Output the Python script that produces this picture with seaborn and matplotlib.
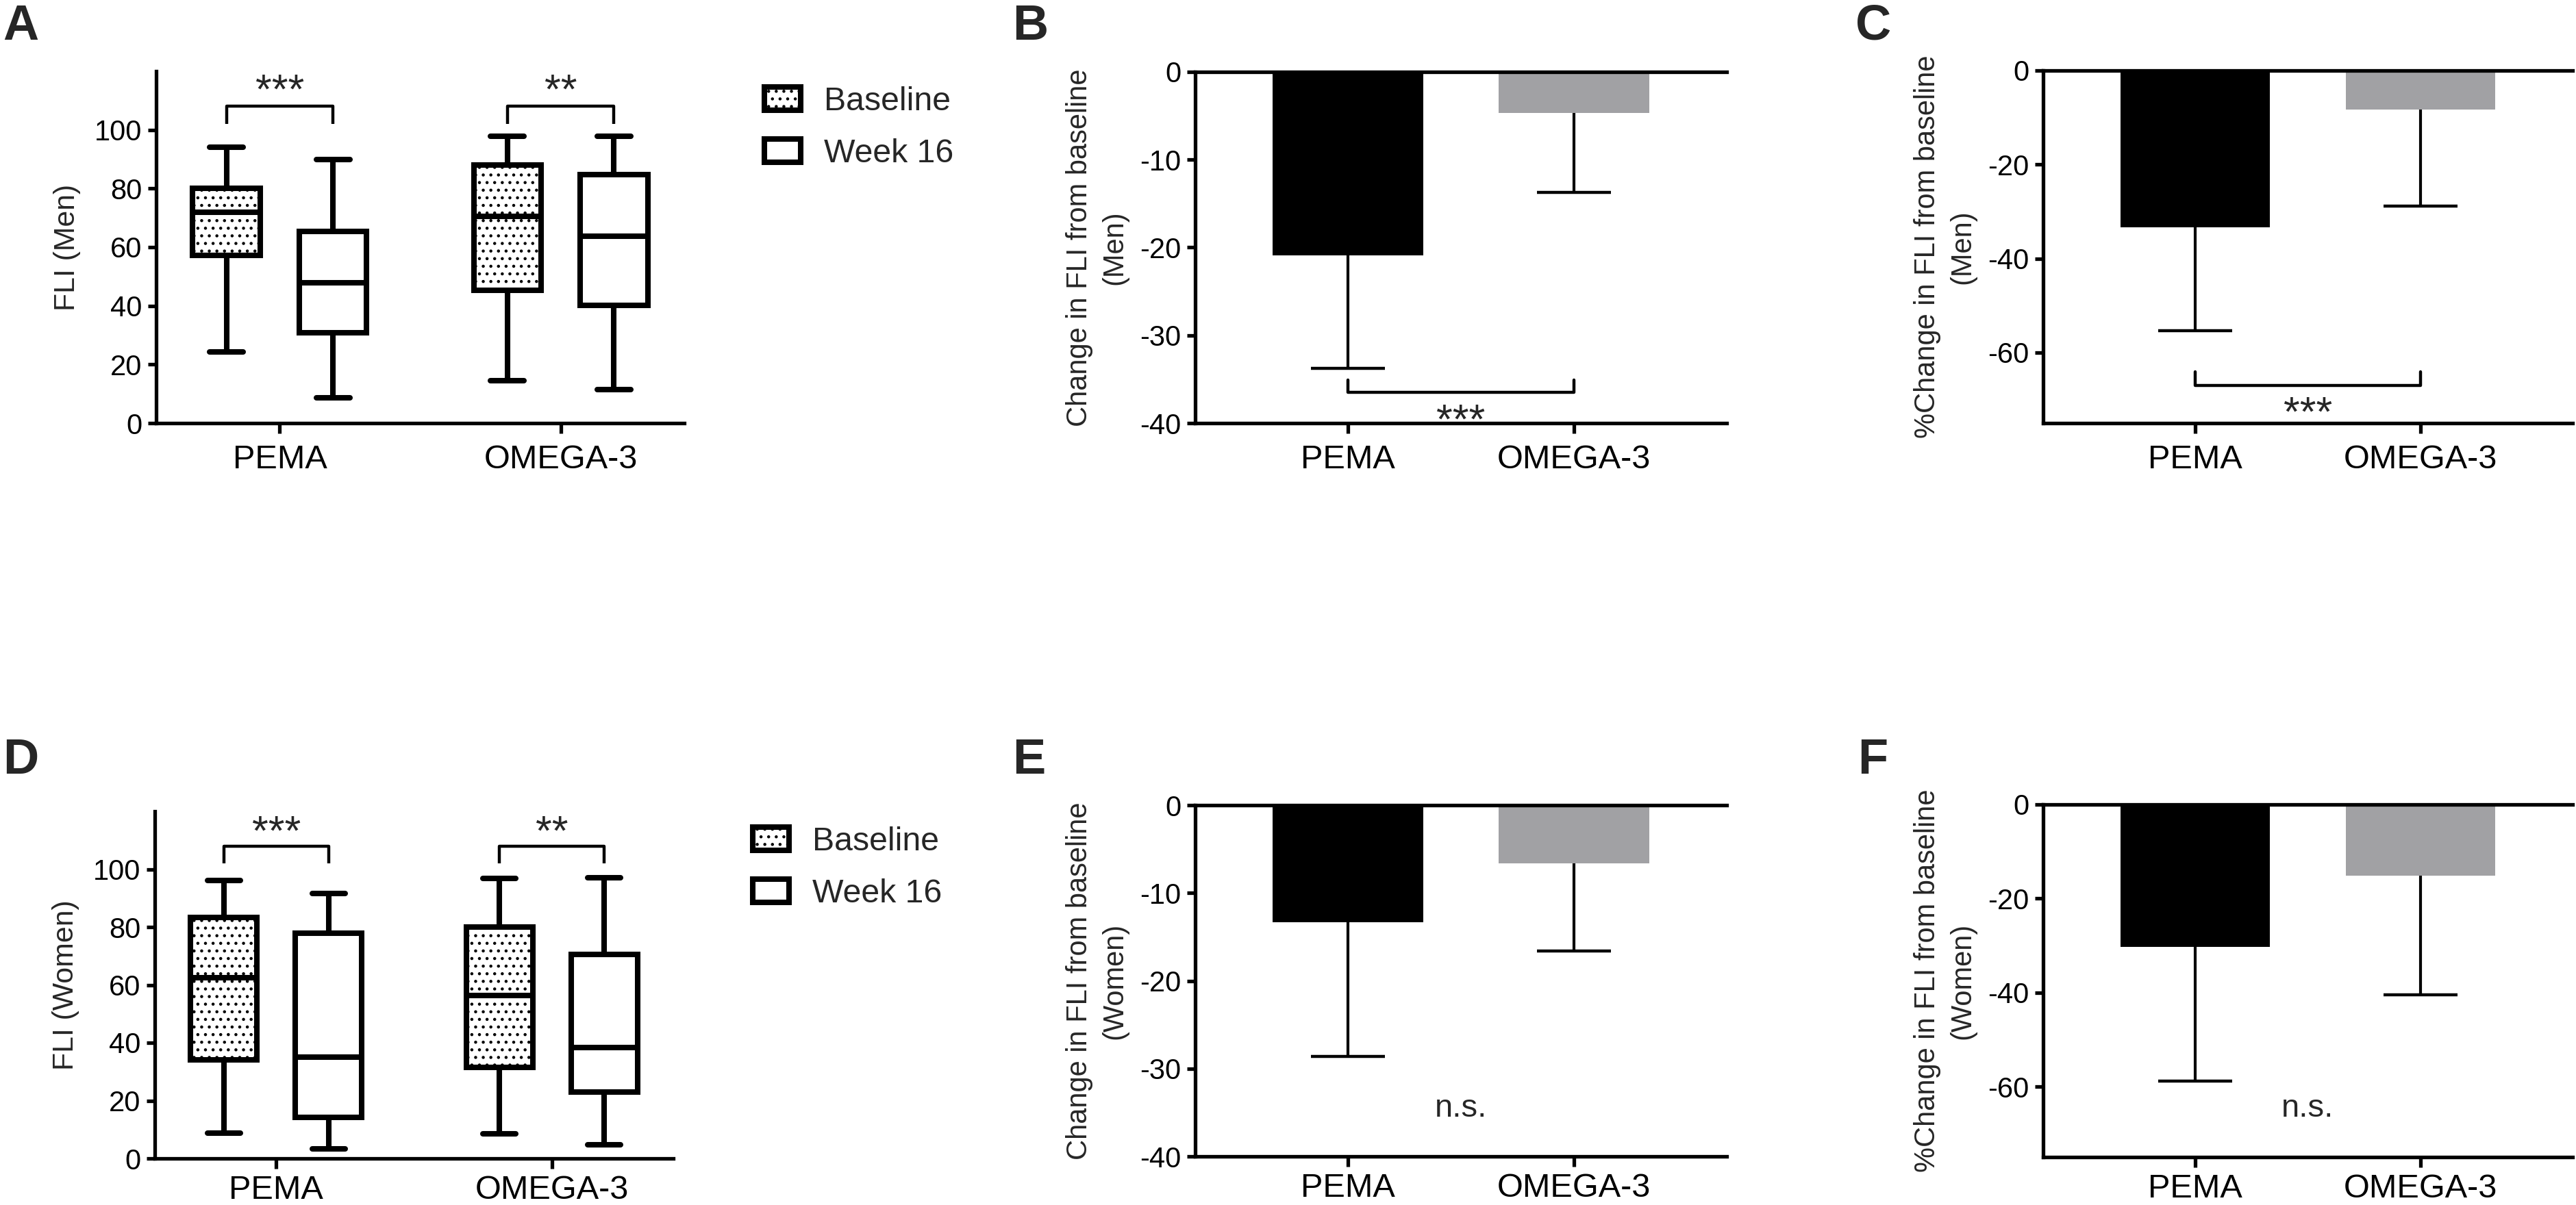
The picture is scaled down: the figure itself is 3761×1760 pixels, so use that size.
import numpy as np
import pandas as pd
import matplotlib
matplotlib.use("Agg")
import matplotlib.pyplot as plt
import seaborn as sns
from matplotlib.patches import Patch

# categories
groups = ["PEMA", "OMEGA-3"]
times = ["Baseline", "Week 16"]

# box plots: min, Q1, median, Q3, max
men_pema_baseline = [24.3, 57.3, 72.0, 80.0, 94.0]
men_pema_week16 = [8.6, 30.9, 47.9, 65.4, 89.8]
men_omega_baseline = [14.4, 45.3, 70.5, 88.0, 97.9]
men_omega_week16 = [11.5, 40.1, 63.8, 84.7, 97.9]

women_pema_baseline = [8.8, 34.1, 62.6, 83.4, 96.0]
women_pema_week16 = [3.4, 14.1, 35.0, 77.8, 91.5]
women_omega_baseline = [8.5, 31.5, 56.3, 79.9, 96.8]
women_omega_week16 = [4.8, 23.0, 38.4, 70.6, 97.0]

# bar plots: mean and SD (error drawn downward only)
change_men_mean = [-20.9, -4.7]
change_men_sd = [12.9, 9.05]
pct_men_mean = [-33.3, -8.3]
pct_men_sd = [22.0, 20.6]
change_women_mean = [-13.3, -6.6]
change_women_sd = [15.3, 10.0]
pct_women_mean = [-30.3, -15.1]
pct_women_sd = [28.6, 25.4]

box_stars = ["***", "**"]

sns.set_style("ticks")
plt.rcParams["font.family"] = ["Liberation Sans", "DejaVu Sans"]
plt.rcParams["axes.unicode_minus"] = False
plt.rcParams["hatch.linewidth"] = 0.8
plt.rcParams["hatch.color"] = "black"

fig = plt.figure(figsize=(3761 / 200, 1760 / 200), dpi=200)

W, H = 3761, 1760


def add_ax(left, right, top, bottom):
    return fig.add_axes([left / W, 1 - bottom / H, (right - left) / W, (bottom - top) / H])


ax_a = add_ax(228, 999, 104, 618)
ax_b = add_ax(1745, 2521, 105, 618)
ax_c = add_ax(2983, 3756, 103, 618)
ax_d = add_ax(226, 983, 1185, 1692)
ax_e = add_ax(1745, 2521, 1176, 1689)
ax_f = add_ax(2983, 3756, 1175, 1690)

BOX_LW = 2.9
SPINE_LW = 1.9
dodge_off = 0.76 / 4


def style_ticks(ax, xpad):
    ax.tick_params(axis="x", labelsize=17.5, length=5.5, width=SPINE_LW, pad=xpad, colors="black")
    ax.tick_params(axis="y", labelsize=15, length=4.5, width=SPINE_LW, pad=3, colors="black")
    for s in ax.spines.values():
        s.set_linewidth(SPINE_LW)
        s.set_color("black")
    ax.set_xlabel("")


def box_panel(ax, cells, ylabel, star_top, br_top, br_leg, xpad):
    rows = []
    for (g, t), vals in cells.items():
        for v in vals:
            rows.append({"group": g, "time": t, "FLI": v})
    df = pd.DataFrame(rows)
    sns.boxplot(data=df, x="group", y="FLI", hue="time", order=groups, hue_order=times,
                whis=(0, 100), width=0.76, gap=0.37, palette=["white", "white"],
                saturation=1, linecolor="black", linewidth=BOX_LW, showfliers=False,
                legend=False, ax=ax)
    for p in ax.patches:
        xc = p.get_path().vertices[:, 0].mean()
        if xc < round(xc):
            p.set_hatch("...")
    ax.set_ylim(0, 120)
    ax.set_xlim(-0.44, 1.44)
    ax.set_yticks(range(0, 101, 20))
    sns.despine(ax=ax)
    style_ticks(ax, xpad)
    ax.set_ylabel(ylabel, fontsize=15.4, labelpad=7)
    for i, s in enumerate(box_stars):
        x0, x1 = i - dodge_off, i + dodge_off
        ax.plot([x0, x0, x1, x1], [br_leg, br_top, br_top, br_leg], color="black", lw=1.6,
                solid_capstyle="butt", clip_on=False)
        ax.text(i, star_top, s, ha="center", va="top", fontsize=22, clip_on=False)


def bar_panel(ax, means, sds, ylabel, ylow, yticks, sig, sig_y, sig_va, xpad, bracket=None):
    sns.barplot(x=groups, y=means, hue=groups, palette=["black", "#a1a1a4"], width=0.665,
                saturation=1, linewidth=0, legend=False, errorbar=None, ax=ax)
    eb = ax.errorbar(range(len(groups)), means, yerr=[sds, [0] * len(sds)], fmt="none",
                     ecolor="black", elinewidth=1.5, capsize=19.3, capthick=1.6, zorder=0.5)
    for cl in eb[1]:
        if np.allclose(cl.get_ydata(), means):
            cl.set_visible(False)
    ax.set_ylim(ylow, 0)
    ax.set_xlim(-0.675, 1.675)
    ax.set_yticks(yticks)
    ax.spines["right"].set_visible(False)
    ax.tick_params(top=False, right=False)
    style_ticks(ax, xpad)
    ax.set_ylabel(ylabel, fontsize=15, labelpad=6, linespacing=1.35)
    if bracket is not None:
        h, leg = bracket
        ax.plot([0, 0, 1, 1], [leg, h, h, leg], color="black", lw=1.6, clip_on=False)
    ax.text(0.5, sig_y, sig, ha="center", va=sig_va,
            fontsize=22 if sig.startswith("*") else 17, clip_on=False)


box_panel(ax_a, {("PEMA", "Baseline"): men_pema_baseline, ("PEMA", "Week 16"): men_pema_week16,
                 ("OMEGA-3", "Baseline"): men_omega_baseline, ("OMEGA-3", "Week 16"): men_omega_week16},
          "FLI (Men)", 119.4, 108, 102, 5.5)
box_panel(ax_d, {("PEMA", "Baseline"): women_pema_baseline, ("PEMA", "Week 16"): women_pema_week16,
                 ("OMEGA-3", "Baseline"): women_omega_baseline, ("OMEGA-3", "Week 16"): women_omega_week16},
          "FLI (Women)", 119.0, 108, 102, 3.0)

bar_panel(ax_b, change_men_mean, change_men_sd, "Change in FLI from baseline\n(Men)",
          -40, [0, -10, -20, -30, -40], "***", -37.7, "top", 5.5, bracket=(-36.5, -35.1))
bar_panel(ax_c, pct_men_mean, pct_men_sd, "%Change in FLI from baseline\n(Men)",
          -75, [0, -20, -40, -60], "***", -69.1, "top", 5.5, bracket=(-66.95, -64.1))
bar_panel(ax_e, change_women_mean, change_women_sd, "Change in FLI from baseline\n(Women)",
          -40, [0, -10, -20, -30, -40], "n.s.", -35.5, "baseline", 3.0)
bar_panel(ax_f, pct_women_mean, pct_women_sd, "%Change in FLI from baseline\n(Women)",
          -75, [0, -20, -40, -60], "n.s.", -66.4, "baseline", 3.0)

# legends for the box panels
handles = [Patch(facecolor="white", edgecolor="black", linewidth=BOX_LW, hatch="..."),
           Patch(facecolor="white", edgecolor="black", linewidth=BOX_LW)]
for x_px, y_px in [(1116, 126), (1099, 1207)]:
    fig.legend(handles, times, loc="upper left", bbox_to_anchor=(x_px / W, 1 - y_px / H),
               frameon=False, fontsize=17.4, borderpad=0, borderaxespad=0,
               handlelength=1.1, handleheight=0.7, handletextpad=0.7, labelspacing=0.64)

# panel letters
for letter, x_px, y_px in [("A", 4, 5), ("B", 1478, 5), ("C", 2709, 5),
                           ("D", 4, 1077), ("E", 1478, 1077), ("F", 2712, 1077)]:
    fig.text(x_px / W, 1 - y_px / H, letter, ha="left", va="top", fontsize=26, fontweight="bold")

fig.savefig("out.png", dpi=200)
